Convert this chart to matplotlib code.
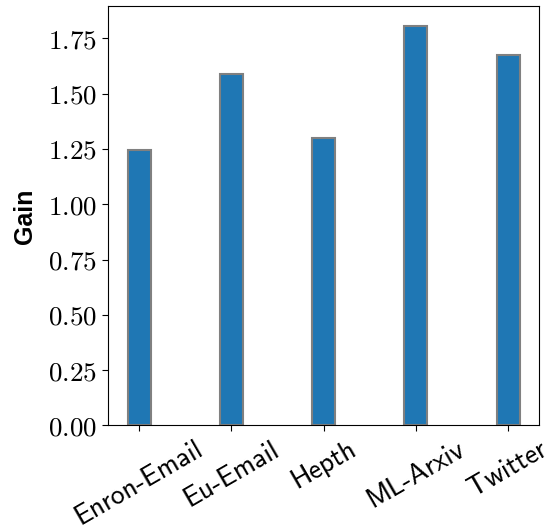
import numpy as np
import matplotlib
matplotlib.use('Agg')
import matplotlib.pyplot as plt

datasets = ['Enron-Email', 'Eu-Email', 'Hepth', 'ML-Arxiv', 'Twitter']
gain = [1.245, 1.588, 1.30, 1.805, 1.673]
yticks = [0.0, 0.25, 0.5, 0.75, 1.0, 1.25, 1.5, 1.75]

plt.rcParams['mathtext.fontset'] = 'cm'

fig, ax = plt.subplots(figsize=(5.48, 5.29), dpi=100)
x = np.arange(len(datasets))
ax.bar(x, gain, width=0.25, color='#1f77b4', edgecolor='grey', linewidth=1.5)

ax.set_xticks(x)
ax.set_xticklabels(datasets, rotation=30, family='cmss10', fontsize=20)
ax.set_yticks(yticks)
ax.set_yticklabels(['$%.2f$' % v for v in yticks], fontsize=19.5)
ax.tick_params(length=4.5)
ax.set_ylabel('Gain', fontsize=18, fontweight='bold', family='Liberation Sans', labelpad=8)

fig.subplots_adjust(left=0.197, right=0.984, top=0.988, bottom=0.196)
plt.savefig('out.png')
